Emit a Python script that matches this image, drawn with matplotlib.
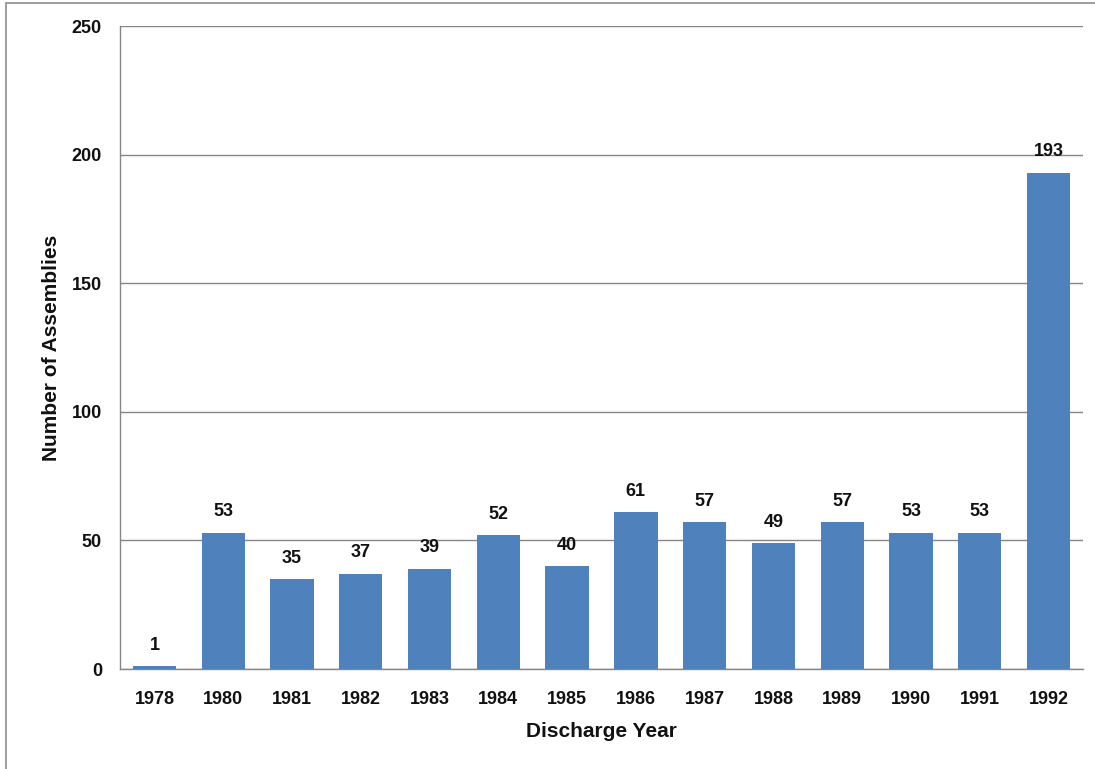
import matplotlib.pyplot as plt
from matplotlib.patches import Rectangle

years = ["1978", "1980", "1981", "1982", "1983", "1984", "1985",
         "1986", "1987", "1988", "1989", "1990", "1991", "1992"]
assemblies = [1, 53, 35, 37, 39, 52, 40, 61, 57, 49, 57, 53, 53, 193]
y_ticks = [0, 50, 100, 150, 200, 250]

bar_color = "#4F81BD"
grid_color = "#868686"

plt.rcParams['font.family'] = ['Liberation Sans', 'DejaVu Sans']
plt.rcParams['font.weight'] = 'bold'

fig = plt.figure(figsize=(10.95, 7.69), dpi=100)
ax = fig.add_axes([0.1096, 0.130, 0.8794, 0.836])

x = range(len(years))
bars = ax.bar(x, assemblies, width=0.63, color=bar_color, zorder=3)

for b, v in zip(bars, assemblies):
    ax.annotate(str(v), (b.get_x() + b.get_width() / 2, v),
                xytext=(0, 9), textcoords="offset points",
                ha="center", va="bottom", fontsize=13, fontweight="bold",
                color="#111111", zorder=4)

ax.set_xlim(-0.5, len(years) - 0.5)
ax.set_ylim(0, 250)
ax.set_yticks(y_ticks)
ax.set_xticks(list(x))
ax.set_xticklabels(years)
ax.tick_params(axis="both", length=0, labelsize=13, colors="#111111")
ax.tick_params(axis="x", pad=16)
ax.tick_params(axis="y", pad=13)
for lbl in ax.get_xticklabels() + ax.get_yticklabels():
    lbl.set_fontweight("bold")

ax.yaxis.grid(True, color=grid_color, linewidth=1, zorder=0)
ax.set_axisbelow(True)
for s in ["top", "right"]:
    ax.spines[s].set_visible(False)
for s in ["left", "bottom"]:
    ax.spines[s].set_color(grid_color)
    ax.spines[s].set_linewidth(1)

ax.set_xlabel("Discharge Year", fontsize=15, fontweight="bold", labelpad=10,
              color="#111111")
ax.set_ylabel("Number of Assemblies", fontsize=15, fontweight="bold", labelpad=8,
              color="#111111")

# outer frame, only the left and top edges show inside the picture
fig.patches.append(Rectangle((6 / 1095, -0.1), 1.2, 1 - 3 / 769 + 0.1,
                             transform=fig.transFigure, fill=False,
                             edgecolor="#8c8c8c", linewidth=1.2))

fig.savefig("out.png", dpi=100)
